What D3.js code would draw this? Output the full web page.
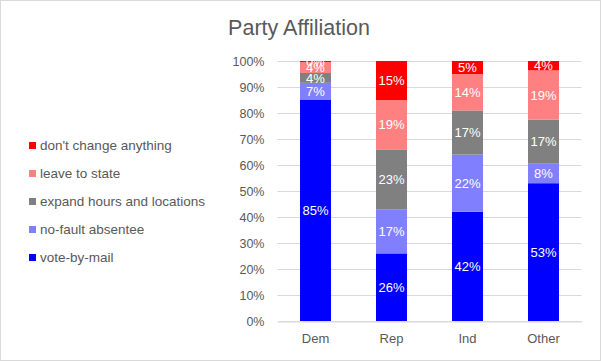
<!DOCTYPE html>
<html>
<head>
<meta charset="utf-8">
<script src="https://cdn.jsdelivr.net/npm/d3@7"></script>
<style>
  body { margin: 0; background: #fff; }
  text { font-family: "Liberation Sans", Arial, sans-serif; }
</style>
</head>
<body>
<svg id="chart"></svg>
<script>
// chart data
var parties = ["Dem", "Rep", "Ind", "Other"];
var seriesNames = ["vote-by-mail", "no-fault absentee", "expand hours and locations", "leave to state", "don't change anything"];
var voteByMail = [85, 26, 42, 53];
var noFault = [6.6, 17, 22, 7.7];
var expandHours = [3.8, 23, 17, 16.7];
var leaveToState = [4.2, 19, 14, 19];
var dontChange = [0.4, 15, 5, 3.6];
var yTicks = [0, 10, 20, 30, 40, 50, 60, 70, 80, 90, 100];

var colors = ["#0000ff", "#8080ff", "#808080", "#ff8080", "#ff0000"];

var W = 601, H = 361;
var margin = {top: 61, bottom: 40, left: 277.5, right: 19.5};

var svg = d3.select("#chart").attr("width", W).attr("height", H);

svg.append("rect")
  .attr("x", 0.5).attr("y", 0.5)
  .attr("width", W - 1).attr("height", H - 1)
  .attr("fill", "#fff").attr("stroke", "#d9d9d9");

// build table for stacking
var allSeries = [voteByMail, noFault, expandHours, leaveToState, dontChange];
var table = parties.map(function(p, i) {
  var row = {party: p};
  seriesNames.forEach(function(s, j) { row[s] = allSeries[j][i]; });
  return row;
});
var stacked = d3.stack().keys(seriesNames).offset(d3.stackOffsetExpand)(table);

var x = d3.scaleBand().domain(parties)
  .range([margin.left, W - margin.right])
  .paddingInner(0.592).paddingOuter(0.296);
var y = d3.scaleLinear().domain([0, 1]).range([H - margin.bottom, margin.top]);

// gridlines
svg.append("g").selectAll("line")
  .data(yTicks)
  .enter().append("line")
  .attr("x1", margin.left).attr("x2", W - margin.right)
  .attr("y1", function(d) { return Math.round(y(d / 100)) + 0.5; })
  .attr("y2", function(d) { return Math.round(y(d / 100)) + 0.5; })
  .attr("stroke", "#d9d9d9").attr("stroke-width", 1);

// y axis labels
var yAxis = d3.axisLeft(y)
  .tickValues(yTicks.map(function(d) { return d / 100; }))
  .tickFormat(d3.format(".0%"))
  .tickSize(0).tickPadding(13);
var yg = svg.append("g").attr("transform", "translate(" + margin.left + ",0)").call(yAxis);
yg.select(".domain").remove();
yg.selectAll("text").attr("fill", "#595959").style("font-size", "12.5px");

// bars
var layers = svg.append("g").selectAll("g")
  .data(stacked)
  .enter().append("g")
  .attr("fill", function(d, i) { return colors[i]; });

layers.selectAll("rect")
  .data(function(d) { return d; })
  .enter().append("rect")
  .attr("x", function(d) { return x(d.data.party); })
  .attr("width", x.bandwidth())
  .attr("y", function(d) { return y(d[1]); })
  .attr("height", function(d) { return y(d[0]) - y(d[1]); });

// data labels
layers.selectAll("text")
  .data(function(d) { return d; })
  .enter().append("text")
  .attr("x", function(d) { return x(d.data.party) + x.bandwidth() / 2; })
  .attr("y", function(d) { return (y(d[0]) + y(d[1])) / 2; })
  .attr("dy", "0.36em")
  .attr("text-anchor", "middle")
  .attr("fill", "#fff")
  .style("font-size", "13px")
  .text(function(d) { return Math.round((d[1] - d[0]) * 100) + "%"; });

// x axis
var xAxis = d3.axisBottom(x).tickSize(0).tickPadding(12);
var xg = svg.append("g").attr("transform", "translate(0," + (H - margin.bottom + 0.5) + ")").call(xAxis);
xg.select(".domain").attr("stroke", "#d9d9d9");
xg.selectAll("text").attr("fill", "#595959").style("font-size", "13px");

// title
svg.append("text")
  .attr("x", 299).attr("y", 35)
  .attr("text-anchor", "middle")
  .attr("fill", "#595959")
  .style("font-size", "21.5px")
  .text("Party Affiliation");

// legend
var legend = svg.append("g").selectAll("g")
  .data(seriesNames.slice().reverse())
  .enter().append("g")
  .attr("transform", function(d, i) { return "translate(29," + (145.5 + i * 28) + ")"; });
legend.append("rect")
  .attr("x", 0).attr("y", -3.5)
  .attr("width", 7).attr("height", 7)
  .attr("fill", function(d) { return colors[seriesNames.indexOf(d)]; });
legend.append("text")
  .attr("x", 11).attr("dy", "0.36em")
  .attr("fill", "#595959")
  .style("font-size", "13.5px")
  .text(function(d) { return d; });
</script>
</body>
</html>
